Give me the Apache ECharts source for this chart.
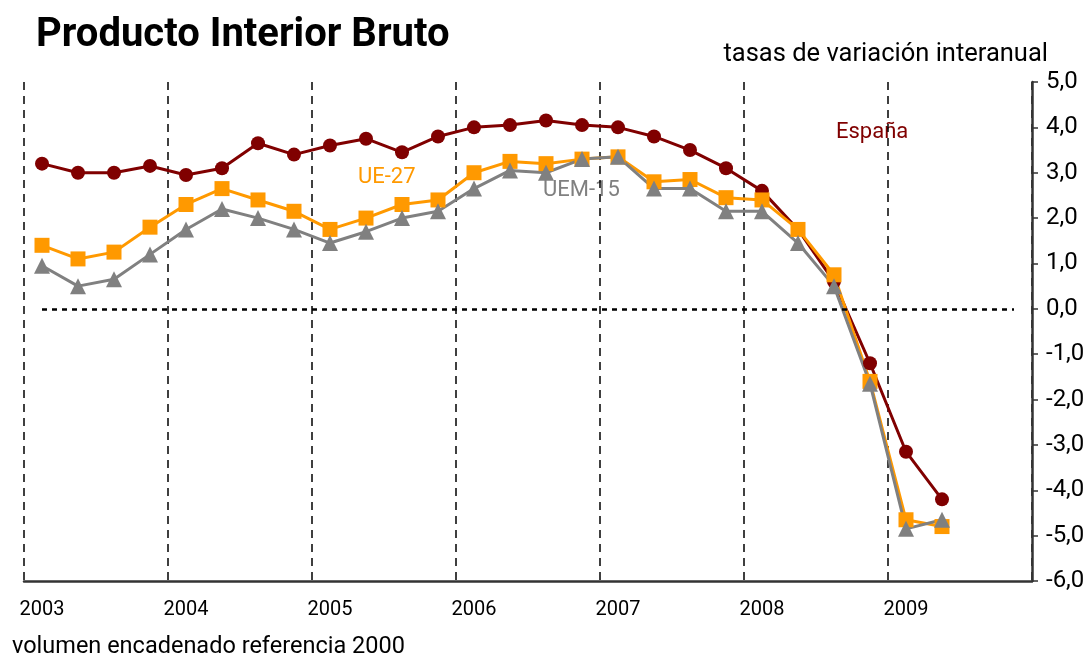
<!DOCTYPE html>
<html>
<head>
<meta charset="utf-8">
<script src="https://cdn.jsdelivr.net/npm/echarts@6/dist/echarts.min.js"></script>
<style>
  html, body { margin: 0; padding: 0; background: #fff; }
  #chart { width: 1090px; height: 654px; }
</style>
</head>
<body>
<div id="chart"></div>
<script>
// years on the axis, four quarters each
var years = ["2003", "2004", "2005", "2006", "2007", "2008", "2009"];
var quarterNames = ["T1", "T2", "T3", "T4"];

// tasas de variacion interanual (%)
var espana = [3.2, 3.0, 3.0, 3.15, 2.95, 3.1, 3.65, 3.4, 3.6, 3.75, 3.45, 3.8, 4.0, 4.05, 4.15, 4.05, 4.0, 3.8, 3.5, 3.1, 2.6, 1.75, 0.6, -1.2, -3.15, -4.2];
var ue27 = [1.4, 1.1, 1.25, 1.8, 2.3, 2.65, 2.4, 2.15, 1.75, 2.0, 2.3, 2.4, 3.0, 3.25, 3.2, 3.3, 3.35, 2.8, 2.85, 2.45, 2.4, 1.75, 0.75, -1.6, -4.65, -4.8];
var uem15 = [0.95, 0.5, 0.65, 1.2, 1.75, 2.2, 2.0, 1.75, 1.45, 1.7, 2.0, 2.15, 2.65, 3.05, 3.0, 3.3, 3.35, 2.65, 2.65, 2.15, 2.15, 1.45, 0.5, -1.65, -4.85, -4.65];

var yMin = -6, yMax = 5, yStep = 1;

var categories = [];
for (var i = 0; i < years.length; i++) {
    for (var q = 0; q < quarterNames.length; q++) {
        categories.push(years[i] + " " + quarterNames[q]);
    }
}

var font = "Roboto, Liberation Sans, Arial, sans-serif";

var option = {
    backgroundColor: "#fff",
    animation: false,
    title: {
        text: "Producto Interior Bruto",
        left: 31,
        top: 11,
        textStyle: { fontFamily: font, fontSize: 40, fontWeight: "bold", color: "#000" }
    },
    graphic: [
        { type: "text", right: 42, top: 42, style: { text: "tasas de variación interanual", font: "25.5px " + font, fill: "#000" } },
        { type: "text", left: 12, top: 635, style: { text: "volumen encadenado referencia 2000", font: "23.5px " + font, fill: "#000" } },
        { type: "text", left: 836, top: 121, style: { text: "España", font: "22px " + font, fill: "#800000" } },
        { type: "text", left: 358, top: 166, style: { text: "UE-27", font: "22px " + font, fill: "#FF9900" } },
        { type: "text", left: 543, top: 179, style: { text: "UEM-15", font: "22px " + font, fill: "#808080" } }
    ],
    grid: { left: 24, right: 58, top: 82, bottom: 73 },
    xAxis: {
        type: "category",
        data: categories,
        boundaryGap: true,
        axisLine: { onZero: false, lineStyle: { color: "#333", width: 2.5 } },
        axisTick: { interval: 3, length: 7, lineStyle: { color: "#333", width: 1.5 } },
        axisLabel: {
            interval: 3,
            margin: 19,
            fontFamily: font,
            fontSize: 20,
            color: "#000",
            formatter: function (v) { return v.split(" ")[0]; }
        },
        splitLine: { show: true, interval: 3, lineStyle: { color: "#000", type: [8, 6], width: 1.5 } }
    },
    yAxis: {
        type: "value",
        position: "right",
        min: yMin,
        max: yMax,
        interval: yStep,
        axisLine: { show: true, lineStyle: { color: "#333", width: 2.5 } },
        axisTick: { show: true, length: 6, lineStyle: { color: "#333", width: 1.5 } },
        axisLabel: {
            margin: 14,
            fontFamily: font,
            fontSize: 24,
            color: "#000",
            formatter: function (v) { return v.toFixed(1).replace(".", ","); }
        },
        splitLine: { show: false }
    },
    series: [
        {
            name: "España",
            type: "line",
            data: espana,
            symbol: "circle",
            symbolSize: 14,
            lineStyle: { color: "#800000", width: 3 },
            itemStyle: { color: "#800000" },
            markLine: {
                silent: true,
                symbol: "none",
                label: { show: false },
                lineStyle: { color: "#000", type: [5, 5], width: 2.5 },
                data: [[{ xAxis: categories[0], yAxis: 0 }, { xAxis: categories[categories.length - 1], yAxis: 0 }]]
            }
        },
        {
            name: "UE-27",
            type: "line",
            data: ue27,
            symbol: "rect",
            symbolSize: 15,
            lineStyle: { color: "#FF9900", width: 3 },
            itemStyle: { color: "#FF9900" }
        },
        {
            name: "UEM-15",
            type: "line",
            data: uem15,
            symbol: "triangle",
            symbolSize: 16,
            lineStyle: { color: "#808080", width: 3 },
            itemStyle: { color: "#808080" }
        }
    ]
};

var myChart = echarts.init(document.getElementById("chart"));
myChart.setOption(option);
</script>
</body>
</html>
